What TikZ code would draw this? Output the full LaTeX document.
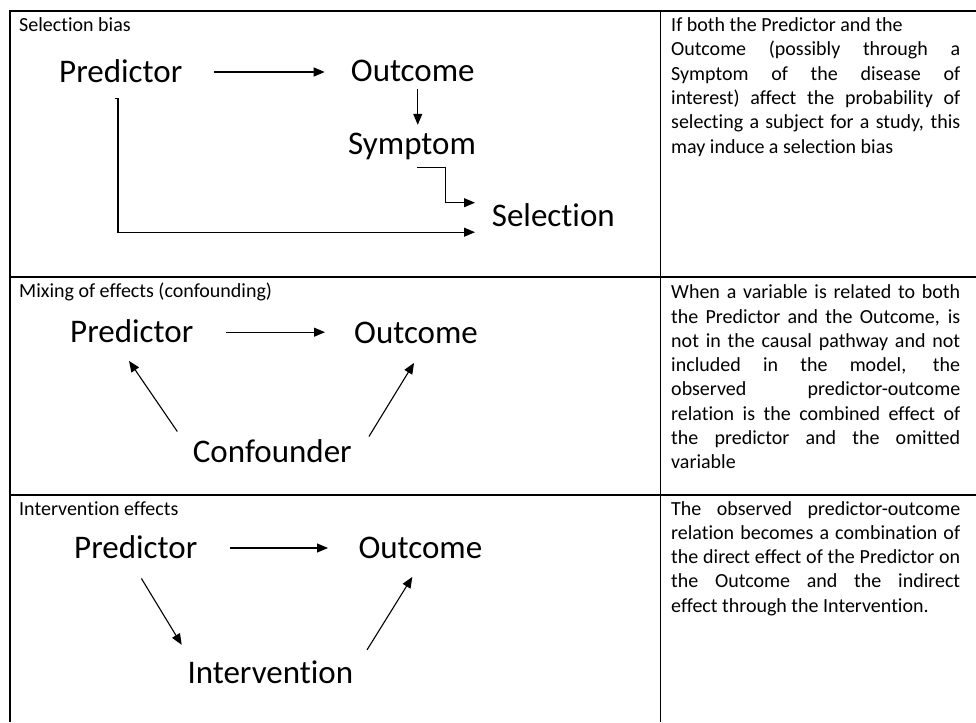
\documentclass[tikz,border=0pt]{standalone}
\usepackage{fontspec}
\setmainfont{Carlito}[Ligatures=NoCommon]
\usetikzlibrary{arrows.meta}
\hyphenpenalty=10000
\exhyphenpenalty=10000

\begin{document}
\begin{tikzpicture}[x=1pt, y=-1pt,
    rule/.style={black, line width=1.2pt},
    arr/.style={black, line width=1.1pt, -{Triangle[length=11pt, width=9pt]}},
    head/.style={anchor=base west, inner sep=0pt, font=\fontsize{20}{24.3}\selectfont},
    var/.style={anchor=base west, inner sep=0pt, text height=21pt, text depth=0pt, font=\fontsize{33}{40}\selectfont},
    note/.style={anchor=base west, inner sep=0pt, font=\fontsize{20}{24.3}\selectfont}]
    % Page of the reference size (976 x 722)
    \useasboundingbox (0, 0) rectangle (976, 722);

    % Table rules: outer frame, column split, row splits
    \draw[rule] (976, 11) -- (10, 11) -- (10, 722);
    \draw[rule] (660.5, 11) -- (660.5, 722);
    \draw[rule] (10, 277) -- (976, 277);
    \draw[rule] (10, 495) -- (976, 495);

    % Row 1: selection bias
    \node[head] (h1) at (19, 31.7) {Selection bias};
    \node[var] (p1) at (59, 82.5) {Predictor};
    \node[var] (o1) at (350.7, 82) {Outcome};
    \node[var] (s1) at (348, 155) {Symptom};
    \node[var] (sel) at (491.7, 226.7) {Selection};
    \draw[arr, shorten <=32pt, shorten >=26pt] (p1.east) -- (p1.east -| o1.west);
    \draw[arr, shorten <=7pt, shorten >=9pt] ([xshift=5pt]o1.south) -- ([xshift=5pt]o1.south |- s1.north);
    \draw[arr] ([xshift=5pt, yshift=-12.7pt]s1.south) -- ++(28.4, 0) |- ([xshift=-16.7pt, yshift=13.5pt]sel.west);
    \draw[arr] ([xshift=-6pt, yshift=-16.2pt]p1.south) -- ++(3.3, 0) |- ([xshift=-16.7pt, yshift=-16pt]sel.west);
    \node[note] (n1) at (671, 31.7) {\parbox[t]{289pt}{If both the Predictor and the\\
        Outcome (possibly through a\linebreak
        Symptom of the disease of\linebreak
        interest) affect the probability of\linebreak
        selecting a subject for a study, this\linebreak
        may induce a selection bias}};

    % Row 2: confounding
    \node[head] (h2) at (19, 297.5) {Mixing of effects (confounding)};
    \node[var] (p2) at (70, 342.7) {Predictor};
    \node[var] (o2) at (354, 343) {Outcome};
    \node[var] (c2) at (192.7, 462.7) {Confounder};
    \draw[arr, shorten <=32.7pt, shorten >=29pt] (p2.east) -- (p2.east -| o2.west);
    \draw[arr] ([xshift=-15.4pt, yshift=10pt]c2.north west) -- ([xshift=-2.7pt, yshift=-18pt]p2.south);
    \draw[arr] ([xshift=17pt, yshift=5pt]c2.north east) -- ([xshift=-2pt, yshift=-19.7pt]o2.south);
    \node[note] (n2) at (671, 298.7) {\parbox[t]{289pt}{When a variable is related to both\linebreak
        the Predictor and the Outcome, is\linebreak
        not in the causal pathway and not\linebreak
        included in the model, the\linebreak
        observed predictor-outcome\linebreak
        relation is the combined effect of\linebreak
        the predictor and the omitted\linebreak
        variable}};

    % Row 3: intervention
    \node[head] (h3) at (19, 515) {Intervention effects};
    \node[var] (p3) at (74, 558.5) {Predictor};
    \node[var] (o3) at (358.3, 558.5) {Outcome};
    \node[var] (i3) at (187.3, 683.3) {Intervention};
    \draw[arr, shorten <=32.7pt, shorten >=30.3pt] (p3.east) -- (p3.east -| o3.west);
    \draw[arr] ([xshift=5.7pt, yshift=-19.8pt]p3.south) -- ([xshift=-5.6pt, yshift=17.3pt]i3.north west);
    \draw[arr] ([xshift=13.7pt, yshift=12.3pt]i3.north east) -- ([xshift=-8pt, yshift=-18.2pt]o3.south);
    \node[note] (n3) at (671, 515) {\parbox[t]{289pt}{The observed predictor-outcome\linebreak
        relation becomes a combination of\linebreak
        the direct effect of the Predictor on\linebreak
        the Outcome and the indirect\linebreak
        effect through the Intervention.}};
\end{tikzpicture}
\end{document}
